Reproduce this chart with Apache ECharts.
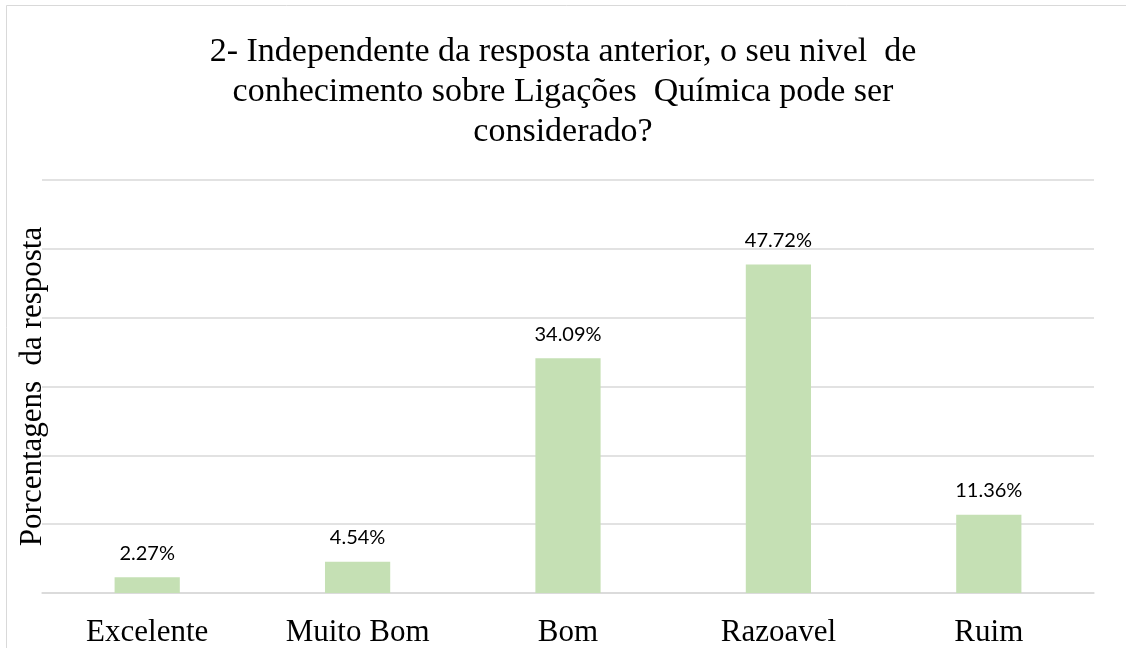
<!DOCTYPE html>
<html>
<head>
<meta charset="utf-8">
<script src="https://cdn.jsdelivr.net/npm/echarts@6/dist/echarts.min.js"></script>
<style>
html,body{margin:0;padding:0;background:#fff;}
#chart{width:1126px;height:648px;}
</style>
</head>
<body>
<div id="chart"></div>
<script>
const titleText = "2- Independente da resposta anterior, o seu nivel  de\nconhecimento sobre Ligações  Química pode ser\nconsiderado?";
const yAxisName = "Porcentagens  da resposta";
const categories = ["Excelente", "Muito Bom", "Bom", "Razoavel", "Ruim"];
const values = [2.27, 4.54, 34.09, 47.72, 11.36];
const valueLabels = ["2.27%", "4.54%", "34.09%", "47.72%", "11.36%"];

const chart = echarts.init(document.getElementById('chart'), null, {renderer: 'canvas'});
chart.setOption({
  backgroundColor: '#ffffff',
  animation: false,
  title: {
    text: titleText,
    left: 'center',
    top: 32,
    padding: 0,
    textStyle: {
      fontFamily: 'Liberation Serif',
      fontSize: 34,
      fontWeight: 'normal',
      color: '#000000',
      lineHeight: 40
    }
  },
  graphic: [{
    type: 'rect',
    shape: {x: 6.5, y: 5.5, width: 1200, height: 700},
    style: {fill: 'none', stroke: '#d9d9d9', lineWidth: 1},
    silent: true
  }],
  grid: {left: 42, right: 32, top: 180, bottom: 54, containLabel: false},
  xAxis: {
    type: 'category',
    data: categories,
    axisLine: {show: true, lineStyle: {color: '#d9d9d9', width: 1.5}},
    axisTick: {show: false},
    axisLabel: {
      fontFamily: 'Liberation Serif',
      fontSize: 31,
      color: '#000000',
      margin: 24
    }
  },
  yAxis: {
    type: 'value',
    min: 0,
    max: 60,
    interval: 10,
    name: yAxisName,
    nameLocation: 'middle',
    nameRotate: 90,
    nameGap: -6,
    nameTextStyle: {
      fontFamily: 'Liberation Serif',
      fontSize: 31,
      color: '#000000'
    },
    axisLine: {show: false},
    axisTick: {show: false},
    axisLabel: {show: false},
    splitLine: {show: true, lineStyle: {color: '#d9d9d9', width: 1.5}}
  },
  series: [{
    type: 'bar',
    data: values,
    barWidth: '31%',
    itemStyle: {color: '#c5e0b4'},
    label: {
      show: true,
      position: 'top',
      distance: 14,
      fontFamily: 'Lato',
      fontSize: 20,
      color: '#000000',
      formatter: function (p) { return valueLabels[p.dataIndex]; }
    }
  }]
});
</script>
</body>
</html>
